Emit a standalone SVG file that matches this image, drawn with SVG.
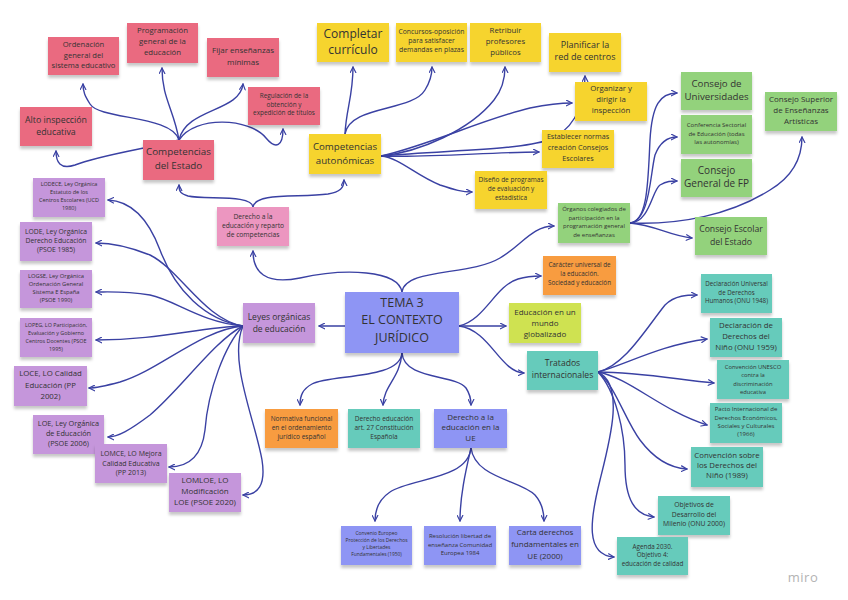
<svg xmlns="http://www.w3.org/2000/svg" width="848" height="600" viewBox="0 0 848 600">
<defs>
<filter id="sh" x="-10%" y="-10%" width="120%" height="140%">
<feDropShadow dx="0" dy="3" stdDeviation="1.8" flood-color="#000" flood-opacity="0.22"/>
</filter>
<marker id="ah" viewBox="0 0 10 10" refX="9" refY="5" markerWidth="7" markerHeight="7" markerUnits="userSpaceOnUse" orient="auto">
<path d="M1,1 L9,5 L1,9" fill="none" stroke="#3a41a3" stroke-width="1.7" stroke-linecap="round" stroke-linejoin="round"/>
</marker>
<style>
.n rect{filter:url(#sh);}
.pink{fill:#ea6b80}
.lpink{fill:#ec96c0}
.yellow{fill:#f6d42e}
.green{fill:#93d27c}
.purple{fill:#c596db}
.blue{fill:#8e95f4}
.teal{fill:#66cbbb}
.orange{fill:#f89c41}
.lime{fill:#cfe251}
text{font-family:"Open Sans","DejaVu Sans",sans-serif;fill:#333;text-anchor:middle}
#connectors path{fill:none;stroke:#3a41a3;stroke-width:1.4;stroke-linecap:round;marker-end:url(#ah)}
</style>
</defs>
<rect width="848" height="600" fill="#ffffff"/>
<g id="connectors">
<path d="M179,140 C172,115 100,120 90,104 C85,96 83,92 83,84"/>
<path d="M179,140 C174,110 162,98 162,68"/>
<path d="M179,140 C186,108 240,112 243,84"/>
<path d="M179,140 C195,115 250,118 266,138 C276,150 283,146 283,129"/>
<path d="M179,140 C150,148 100,155 75,165 C60,170 56,162 56,151"/>
<path d="M253,207 C252,194 205,200 188,196 C181,194 179,192 179,185"/>
<path d="M253,207 C255,192 300,198 328,194 C340,192 344,188 344,180"/>
<path d="M402,292 C398,270 345,268 300,278 C265,285 253,272 253,251"/>
<path d="M402,292 C405,268 470,276 500,258 C522,245 532,226 554,226"/>
<path d="M345,326 L319,326"/>
<path d="M459,326 C485,320 495,286 518,279 C528,276 534,276 541,276"/>
<path d="M459,326 L506,326"/>
<path d="M459,326 C490,330 500,372 524,373"/>
<path d="M402,353 C400,380 330,374 312,384 C303,389 300,395 300,405"/>
<path d="M402,353 C400,378 384,385 383,405"/>
<path d="M402,353 C404,380 455,374 466,388 C470,394 471,398 471,405"/>
<path d="M345,134 C346,110 353,96 353,67"/>
<path d="M345,134 C350,105 412,112 425,90 C430,82 432,76 432,67"/>
<path d="M381,156 C420,152 470,130 494,100 C502,90 505,80 505,67"/>
<path d="M381,156 C430,145 480,120 530,108 C550,104 560,103 572,103"/>
<path d="M381,156 C430,158 490,152 539,152"/>
<path d="M381,156 C450,150 520,150 548,140 C570,132 585,110 585,76"/>
<path d="M381,156 C400,158 415,175 440,185 C455,190 462,192 472,192"/>
<path d="M630,223 C648,222 648,180 650,140 C652,105 660,93 677,93"/>
<path d="M630,223 C650,220 650,175 655,155 C660,142 667,137 677,137"/>
<path d="M630,223 C650,222 652,190 660,185 C667,181 671,181 677,181"/>
<path d="M630,223 C655,225 670,236 692,238"/>
<path d="M630,223 C680,225 730,215 770,190 C790,178 802,160 802,137"/>
<path d="M243,326 C205,320 175,290 160,250 C148,218 130,201 108,200"/>
<path d="M243,326 C205,320 180,270 150,255 C125,245 110,243 96,243"/>
<path d="M243,326 C200,322 175,300 150,295 C125,291 110,292 96,292"/>
<path d="M243,326 C200,327 160,340 96,340"/>
<path d="M243,326 C200,330 160,370 120,382 C105,386 96,388 89,388"/>
<path d="M243,326 C215,340 180,390 150,415 C130,430 118,437 108,437"/>
<path d="M243,326 C225,345 208,390 205,430 C202,455 190,467 169,467"/>
<path d="M243,326 C228,360 255,420 262,460 C266,485 258,495 243,495"/>
<path d="M471,448 C468,480 410,478 390,492 C378,500 375,510 375,521"/>
<path d="M471,448 C466,470 460,495 460,521"/>
<path d="M471,448 C475,478 520,480 535,495 C542,503 544,512 544,521"/>
<path d="M598,372 C625,365 645,330 665,305 C675,295 688,295 697,295"/>
<path d="M598,372 C625,365 660,345 707,339"/>
<path d="M598,372 C640,372 680,380 714,383"/>
<path d="M598,372 C630,378 660,410 707,425"/>
<path d="M598,372 C615,385 625,420 640,440 C655,460 670,468 687,469"/>
<path d="M598,372 C615,390 625,430 625,465 C625,500 635,515 654,517"/>
<path d="M598,372 C625,385 610,440 600,480 C590,520 585,555 614,557"/>
</g>

<g id="n-ordenacion" class="n"><rect class="pink" x="48" y="37" width="71" height="38"/><text font-size="7.6"><tspan x="83.5" y="47">Ordenación</tspan><tspan x="83.5" y="57.7">general del</tspan><tspan x="83.5" y="68">sistema educativo</tspan></text></g>
<g id="n-programacion" class="n"><rect class="pink" x="127" y="23" width="71" height="40"/><text font-size="7.8"><tspan x="162.5" y="33.4">Programación</tspan><tspan x="162.5" y="44.4">general de la</tspan><tspan x="162.5" y="55.4">educación</tspan></text></g>
<g id="n-fijar" class="n"><rect class="pink" x="207" y="38" width="72" height="39"/><text font-size="8"><tspan x="243" y="52.8">Fijar enseñanzas</tspan><tspan x="243" y="64.5">mínimas</tspan></text></g>
<g id="n-regulacion" class="n"><rect class="pink" x="248" y="87" width="72" height="38"/><text font-size="6.4"><tspan x="284" y="98.3">Regulación de la</tspan><tspan x="284" y="106.8">obtención y</tspan><tspan x="284" y="115.3">expedición de títulos</tspan></text></g>
<g id="n-alto" class="n"><rect class="pink" x="20" y="107" width="72" height="39"/><text font-size="8.8"><tspan x="56" y="123.2">Alto inspección</tspan><tspan x="56" y="135.2">educativa</tspan></text></g>
<g id="n-estado" class="n"><rect class="pink" x="143" y="140" width="71" height="40"/><text font-size="9.8"><tspan x="178.5" y="155.4">Competencias</tspan><tspan x="178.5" y="168.9">del Estado</tspan></text></g>
<g id="n-derecho-competencias" class="n"><rect class="lpink" x="217" y="207" width="72" height="39"/><text font-size="6.7"><tspan x="253" y="219.1">Derecho a la</tspan><tspan x="253" y="228.1">educación y reparto</tspan><tspan x="253" y="237.1">de competencias</tspan></text></g>

<g id="n-completar" class="n"><rect class="yellow" x="317" y="23" width="72" height="39"/><text font-size="12"><tspan x="353" y="37.9">Completar</tspan><tspan x="353" y="53.9">currículo</tspan></text></g>
<g id="n-concursos" class="n"><rect class="yellow" x="396" y="23" width="71" height="39"/><text font-size="6.8"><tspan x="431.5" y="34">Concursos-oposición</tspan><tspan x="431.5" y="43">para satisfacer</tspan><tspan x="431.5" y="52">demandas en plazas</tspan></text></g>
<g id="n-retribuir" class="n"><rect class="yellow" x="470" y="23" width="71" height="39"/><text font-size="7.8"><tspan x="505.5" y="32.6">Retribuir</tspan><tspan x="505.5" y="43.6">profesores</tspan><tspan x="505.5" y="54.6">públicos</tspan></text></g>
<g id="n-planificar" class="n"><rect class="yellow" x="549" y="33" width="72" height="39"/><text font-size="9"><tspan x="585" y="48.3">Planificar la</tspan><tspan x="585" y="60">red de centros</tspan></text></g>
<g id="n-organizar" class="n"><rect class="yellow" x="575" y="82" width="72" height="39"/><text font-size="7.8"><tspan x="611" y="91.3">Organizar y</tspan><tspan x="611" y="102.3">dirigir la</tspan><tspan x="611" y="113.3">inspección</tspan></text></g>
<g id="n-autonomicas" class="n"><rect class="yellow" x="309" y="134" width="72" height="40"/><text font-size="9.7"><tspan x="345" y="149.7">Competencias</tspan><tspan x="345" y="163.7">autonómicas</tspan></text></g>
<g id="n-establecer" class="n"><rect class="yellow" x="542" y="130" width="72" height="38"/><text font-size="7.2"><tspan x="578" y="139.1">Establecer normas</tspan><tspan x="578" y="150.1">creación Consejos</tspan><tspan x="578" y="161.1">Escolares</tspan></text></g>
<g id="n-diseno" class="n"><rect class="yellow" x="475" y="171" width="72" height="38"/><text font-size="6.5"><tspan x="511" y="182.3">Diseño de programas</tspan><tspan x="511" y="191.3">de evaluación y</tspan><tspan x="511" y="200.3">estadística</tspan></text></g>

<g id="n-organos" class="n"><rect class="green" x="558" y="203" width="72" height="40"/><text font-size="6"><tspan x="594" y="211">Órganos colegiados de</tspan><tspan x="594" y="219.5">participación en la</tspan><tspan x="594" y="228">programación general</tspan><tspan x="594" y="236.5">de enseñanzas</tspan></text></g>
<g id="n-universidades" class="n"><rect class="green" x="681" y="72" width="71" height="38"/><text font-size="9.7"><tspan x="716.5" y="86.5">Consejo de</tspan><tspan x="716.5" y="99.8">Universidades</tspan></text></g>
<g id="n-conferencia" class="n"><rect class="green" x="681" y="115" width="71" height="39"/><text font-size="6"><tspan x="716.5" y="127.3">Conferencia Sectorial</tspan><tspan x="716.5" y="135.8">de Educación (todas</tspan><tspan x="716.5" y="144.3">las autonomías)</tspan></text></g>
<g id="n-fp" class="n"><rect class="green" x="681" y="159" width="71" height="38"/><text font-size="10"><tspan x="716.5" y="173.9">Consejo</tspan><tspan x="716.5" y="187.2">General de FP</tspan></text></g>
<g id="n-escolar" class="n"><rect class="green" x="695" y="217" width="72" height="38"/><text font-size="8.7"><tspan x="731" y="231.8">Consejo Escolar</tspan><tspan x="731" y="244.5">del Estado</tspan></text></g>
<g id="n-superior" class="n"><rect class="green" x="765" y="92" width="72" height="39"/><text font-size="8"><tspan x="801" y="102.1">Consejo Superior</tspan><tspan x="801" y="113.1">de Enseñanzas</tspan><tspan x="801" y="124.1">Artísticas</tspan></text></g>

<g id="n-lodece" class="n"><rect class="purple" x="33" y="178" width="72" height="39"/><text font-size="5.5"><tspan x="69" y="185.8">LODECE, Ley Orgánica</tspan><tspan x="69" y="193.8">Estatuto de los</tspan><tspan x="69" y="201.8">Centros Escolares (UCD</tspan><tspan x="69" y="209.8">1980)</tspan></text></g>
<g id="n-lode" class="n"><rect class="purple" x="20" y="222" width="72" height="39"/><text font-size="6.8"><tspan x="56" y="233.8">LODE, Ley Orgánica</tspan><tspan x="56" y="243">Derecho Educación</tspan><tspan x="56" y="252.2">(PSOE 1985)</tspan></text></g>
<g id="n-logse" class="n"><rect class="purple" x="20" y="270" width="72" height="38"/><text font-size="5.8"><tspan x="56" y="278.4">LOGSE, Ley Orgánica</tspan><tspan x="56" y="286.4">Ordenación General</tspan><tspan x="56" y="294.4">Sistema E España</tspan><tspan x="56" y="302.4">(PSOE 1990)</tspan></text></g>
<g id="n-lopeg" class="n"><rect class="purple" x="20" y="318" width="72" height="39"/><text font-size="5.4"><tspan x="56" y="326.6">LOPEG, LO Participación,</tspan><tspan x="56" y="334.6">Evaluación y Gobierno</tspan><tspan x="56" y="342.6">Centros Docentes (PSOE</tspan><tspan x="56" y="350.6">1995)</tspan></text></g>
<g id="n-loce" class="n"><rect class="purple" x="14" y="366" width="73" height="40"/><text font-size="7.8"><tspan x="50.5" y="376">LOCE, LO Calidad</tspan><tspan x="50.5" y="387.7">Educación (PP</tspan><tspan x="50.5" y="398.7">2002)</tspan></text></g>
<g id="n-loe" class="n"><rect class="purple" x="33" y="415" width="71" height="39"/><text font-size="7.3"><tspan x="68.5" y="425.9">LOE, Ley Orgánica</tspan><tspan x="68.5" y="435.9">de Educación</tspan><tspan x="68.5" y="445.9">(PSOE 2006)</tspan></text></g>
<g id="n-lomce" class="n"><rect class="purple" x="95" y="444" width="72" height="39"/><text font-size="7"><tspan x="131" y="455.8">LOMCE, LO Mejora</tspan><tspan x="131" y="465.8">Calidad Educativa</tspan><tspan x="131" y="475.2">(PP 2013)</tspan></text></g>
<g id="n-lomloe" class="n"><rect class="purple" x="169" y="473" width="72" height="39"/><text font-size="8"><tspan x="205" y="482.8">LOMLOE, LO</tspan><tspan x="205" y="493.5">Modificación</tspan><tspan x="205" y="504.5">LOE (PSOE 2020)</tspan></text></g>
<g id="n-leyes" class="n"><rect class="purple" x="243" y="303" width="72" height="40"/><text font-size="8.5"><tspan x="279" y="319.5">Leyes orgánicas</tspan><tspan x="279" y="331.5">de educación</tspan></text></g>

<g id="n-tema" class="n"><rect class="blue" x="345" y="292" width="114" height="61"/><text font-size="12.5"><tspan x="402" y="307">TEMA 3</tspan><tspan x="402" y="324.4">EL CONTEXTO</tspan><tspan x="402" y="341.7">JURÍDICO</tspan></text></g>
<g id="n-normativa" class="n"><rect class="orange" x="265" y="409" width="73" height="39"/><text font-size="6.5"><tspan x="301.5" y="420.6">Normativa funcional</tspan><tspan x="301.5" y="429.6">en el ordenamiento</tspan><tspan x="301.5" y="439">jurídico español</tspan></text></g>
<g id="n-art27" class="n"><rect class="teal" x="348" y="409" width="72" height="39"/><text font-size="6.5"><tspan x="384" y="420.6">Derecho educación</tspan><tspan x="384" y="429.6">art. 27 Constitución</tspan><tspan x="384" y="439">Española</tspan></text></g>
<g id="n-ue" class="n"><rect class="blue" x="434" y="409" width="73" height="39"/><text font-size="8"><tspan x="470.5" y="419.5">Derecho a la</tspan><tspan x="470.5" y="430.1">educación en la</tspan><tspan x="470.5" y="441.1">UE</tspan></text></g>
<g id="n-caracter" class="n"><rect class="orange" x="543" y="256" width="73" height="39"/><text font-size="6.3"><tspan x="579.5" y="267.2">Carácter universal de</tspan><tspan x="579.5" y="276.2">la educación.</tspan><tspan x="579.5" y="284.9">Sociedad y educación</tspan></text></g>
<g id="n-mundo" class="n"><rect class="lime" x="509" y="303" width="72" height="40"/><text font-size="8"><tspan x="545" y="314.5">Educación en un</tspan><tspan x="545" y="325.5">mundo</tspan><tspan x="545" y="336.8">globalizado</tspan></text></g>
<g id="n-tratados" class="n"><rect class="teal" x="527" y="351" width="71" height="39"/><text font-size="8.6"><tspan x="562.5" y="365.7">Tratados</tspan><tspan x="562.5" y="378">internacionales</tspan></text></g>

<g id="n-convenio" class="n"><rect class="blue" x="341" y="526" width="71" height="39"/><text font-size="4.9"><tspan x="376.5" y="535">Convenio Europeo</tspan><tspan x="376.5" y="541.8">Protección de los Derechos</tspan><tspan x="376.5" y="549">y Libertades</tspan><tspan x="376.5" y="555.8">Fundamentales (1950)</tspan></text></g>
<g id="n-resolucion" class="n"><rect class="blue" x="424" y="526" width="72" height="39"/><text font-size="6"><tspan x="460" y="538.1">Resolución libertad de</tspan><tspan x="460" y="547.1">enseñanza Comunidad</tspan><tspan x="460" y="555.4">Europea 1984</tspan></text></g>
<g id="n-carta" class="n"><rect class="blue" x="509" y="526" width="72" height="39"/><text font-size="8"><tspan x="545" y="534.5">Carta derechos</tspan><tspan x="545" y="547">fundamentales en</tspan><tspan x="545" y="558.8">UE (2000)</tspan></text></g>

<g id="n-dudh" class="n"><rect class="teal" x="701" y="274" width="71" height="39"/><text font-size="6.2"><tspan x="736.5" y="285.5">Declaración Universal</tspan><tspan x="736.5" y="294.5">de Derechos</tspan><tspan x="736.5" y="302.9">Humanos (ONU 1948)</tspan></text></g>
<g id="n-nino1959" class="n"><rect class="teal" x="710" y="318" width="72" height="39"/><text font-size="7.8"><tspan x="746" y="327.7">Declaración de</tspan><tspan x="746" y="339.4">Derechos del</tspan><tspan x="746" y="350">Niño (ONU 1959)</tspan></text></g>
<g id="n-unesco" class="n"><rect class="teal" x="717" y="360" width="72" height="39"/><text font-size="5.8"><tspan x="753" y="368.7">Convención UNESCO</tspan><tspan x="753" y="377.2">contra la</tspan><tspan x="753" y="385.5">discriminación</tspan><tspan x="753" y="393.7">educativa</tspan></text></g>
<g id="n-pacto" class="n"><rect class="teal" x="710" y="403" width="72" height="40"/><text font-size="6"><tspan x="746" y="411.4">Pacto Internacional de</tspan><tspan x="746" y="419.8">Derechos Económicos,</tspan><tspan x="746" y="428.1">Sociales y Culturales</tspan><tspan x="746" y="436.1">(1966)</tspan></text></g>
<g id="n-nino1989" class="n"><rect class="teal" x="691" y="447" width="72" height="40"/><text font-size="7.8"><tspan x="727" y="457.7">Convención sobre</tspan><tspan x="727" y="467.7">los Derechos del</tspan><tspan x="727" y="478.4">Niño (1989)</tspan></text></g>
<g id="n-odm" class="n"><rect class="teal" x="658" y="496" width="72" height="39"/><text font-size="6.8"><tspan x="694" y="507.4">Objetivos de</tspan><tspan x="694" y="516.7">Desarrollo del</tspan><tspan x="694" y="525.7">Milenio (ONU 2000)</tspan></text></g>
<g id="n-agenda" class="n"><rect class="teal" x="617" y="537" width="71" height="38"/><text font-size="6.3"><tspan x="652.5" y="548.9">Agenda 2030.</tspan><tspan x="652.5" y="557.2">Objetivo 4:</tspan><tspan x="652.5" y="565.5">educación de calidad</tspan></text></g>

<text x="803" y="582" font-size="13" style="fill:#b3b3b3" letter-spacing="0.5">miro</text>
</svg>
